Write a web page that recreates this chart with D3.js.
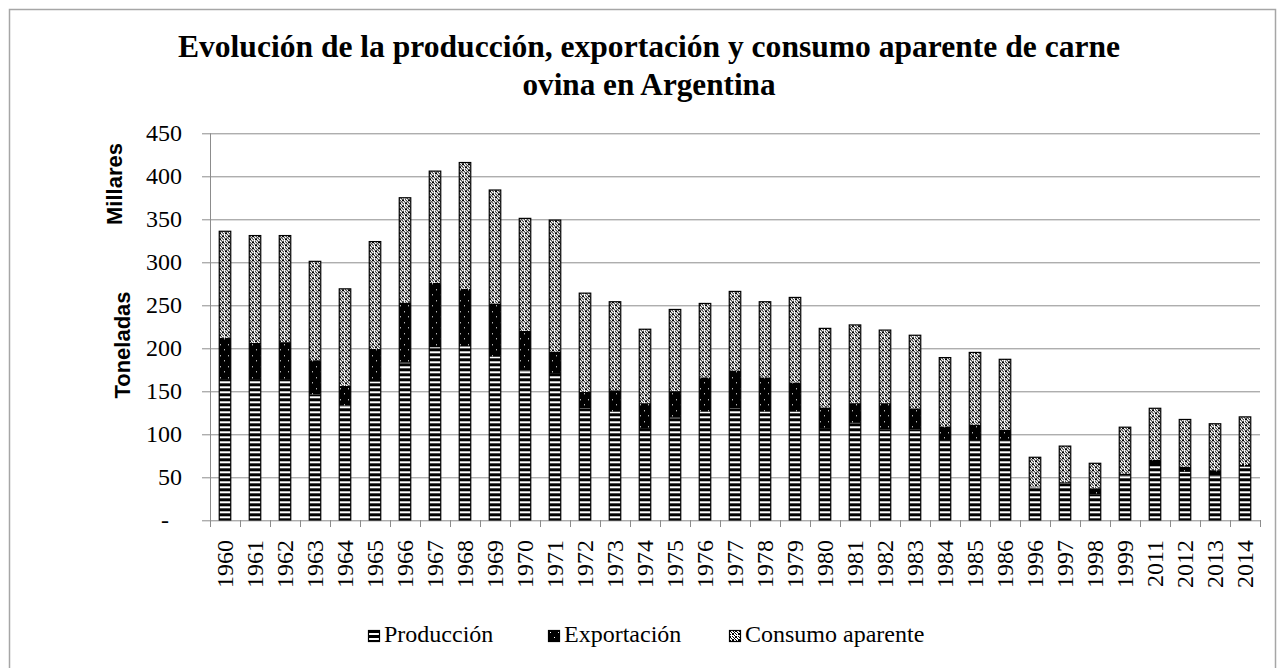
<!DOCTYPE html>
<html>
<head>
<meta charset="utf-8">
<script src="https://cdn.jsdelivr.net/npm/d3@7.9.0/dist/d3.min.js"></script>
<style>
  body { margin: 0; background: #fff; }
  svg { display: block; }
  .serif { font-family: "Liberation Serif", "Times New Roman", serif; }
  .sans { font-family: "Liberation Sans", Arial, sans-serif; }
</style>
</head>
<body>
<svg id="chart" width="1279" height="668"></svg>
<script>
const years = ["1960","1961","1962","1963","1964","1965","1966","1967","1968","1969",
  "1970","1971","1972","1973","1974","1975","1976","1977","1978","1979",
  "1980","1981","1982","1983","1984","1985","1986","1996","1997","1998","1999",
  "2011","2012","2013","2014"];

// miles de toneladas
const produccion  = [163,163,163,146,133,161,183,201,202,190,174,170,130,126,106,119,126,130,126,126,106,113,105,105,93,93,93,38,43,30,52,64,56,52,62];
const exportacion = [49,43,44,40,23,38,70,75,67,62,46,26,19,25,30,31,40,44,40,34,25,23,31,25,16,18,12,1,1,7,2,6,6,6,2];
const consumo     = [124,125,124,115,113,125,122,130,147,132,131,153,115,103,86,95,86,92,88,99,92,91,85,85,80,84,82,34,42,29,54,60,55,54,56];

const yTicks = [0,50,100,150,200,250,300,350,400,450];
const seriesNames = ["Producción","Exportación","Consumo aparente"];

const svg = d3.select("#chart");
const margin = { top: 133.3, right: 19, bottom: 148, left: 210 };
const width = 1279 - margin.left - margin.right;   // 1050
const height = 520 - margin.top;

// outer border
svg.append("rect")
  .attr("x", 9.5).attr("y", 9.5)
  .attr("width", 1266).attr("height", 690)
  .attr("fill", "#fff")
  .attr("stroke", "#a6a6a6")
  .attr("stroke-width", 1.5);

// patterns
const defs = svg.append("defs");

let pStripes = defs.append("pattern")
  .attr("id", "p-prod").attr("patternUnits", "userSpaceOnUse")
  .attr("width", 8).attr("height", 5);
pStripes.append("rect").attr("width", 8).attr("height", 5).attr("fill", "#fff");
pStripes.append("rect").attr("width", 8).attr("height", 3).attr("fill", "#000");

let pExp = defs.append("pattern")
  .attr("id", "p-exp").attr("patternUnits", "userSpaceOnUse")
  .attr("width", 8).attr("height", 11);
pExp.append("rect").attr("width", 8).attr("height", 11).attr("fill", "#000");
pExp.append("rect").attr("x", 2).attr("y", 2).attr("width", 1).attr("height", 1).attr("fill", "#fff");
pExp.append("rect").attr("x", 6).attr("y", 7).attr("width", 1).attr("height", 1).attr("fill", "#fff");

let pCons = defs.append("pattern")
  .attr("id", "p-cons").attr("patternUnits", "userSpaceOnUse")
  .attr("width", 6).attr("height", 6);
pCons.append("rect").attr("width", 6).attr("height", 6).attr("fill", "#fff");
[[0,0,2,2],[3,3,2,2],[3,0,1,1],[4,1,1,1],[0,3,1,1],[1,4,1,1],[2,2,1,1],[5,5,1,1],[5,2,1,1]].forEach(d => {
  pCons.append("rect").attr("x", d[0]).attr("y", d[1]).attr("width", d[2]).attr("height", d[3]).attr("fill", "#000");
});

const fills = ["url(#p-prod)", "url(#p-exp)", "url(#p-cons)"];

// title
svg.append("text")
  .attr("class", "serif")
  .attr("x", 649).attr("y", 57)
  .attr("text-anchor", "middle")
  .attr("font-weight", "bold").attr("font-size", 32)
  .attr("textLength", 942).attr("lengthAdjust", "spacingAndGlyphs")
  .text("Evolución de la producción, exportación y consumo aparente de carne");
svg.append("text")
  .attr("class", "serif")
  .attr("x", 649).attr("y", 95)
  .attr("text-anchor", "middle")
  .attr("font-weight", "bold").attr("font-size", 32)
  .attr("textLength", 253).attr("lengthAdjust", "spacingAndGlyphs")
  .text("ovina en Argentina");

const g = svg.append("g").attr("transform", `translate(${margin.left},${margin.top})`);

let xScale = d3.scaleBand().domain(years).range([0, width]).paddingInner(0.583).paddingOuter(0.2915);
let yScale = d3.scaleLinear().domain([0, 450]).range([height, 0]);

// gridlines + y ticks
g.append("g")
  .selectAll("line")
  .data(yTicks)
  .enter().append("line")
    .attr("x1", -8).attr("x2", width)
    .attr("y1", d => Math.round(yScale(d)) + 0.5)
    .attr("y2", d => Math.round(yScale(d)) + 0.5)
    .attr("stroke", "#8c8c8c").attr("stroke-width", 1);

// y axis line
g.append("line")
  .attr("x1", 0.5).attr("x2", 0.5)
  .attr("y1", Math.round(yScale(450))).attr("y2", Math.round(yScale(0)) + 1)
  .attr("stroke", "#8c8c8c");

// y tick labels
let yAxisGroup = g.append("g");
yAxisGroup.call(d3.axisLeft(yScale).tickValues(yTicks).tickSize(0).tickPadding(28)
  .tickFormat(d => d === 0 ? "-" : d));
yAxisGroup.attr("font-family", null);
yAxisGroup.select(".domain").remove();
yAxisGroup.selectAll("text")
  .attr("class", "serif").attr("font-size", 24).attr("fill", "#000");
yAxisGroup.selectAll(".tick").filter(d => d === 0).select("text").attr("x", -41);

// x boundary ticks
const step = xScale.step();
const x0 = xScale(years[0]) - xScale.paddingOuter() * step;
g.append("g")
  .selectAll("line")
  .data(d3.range(years.length + 1))
  .enter().append("line")
    .attr("x1", i => Math.round(x0 + i * step) + 0.5)
    .attr("x2", i => Math.round(x0 + i * step) + 0.5)
    .attr("y1", height).attr("y2", height + 7)
    .attr("stroke", "#8c8c8c");

// x labels
g.append("g")
  .selectAll("text")
  .data(years)
  .enter().append("text")
    .attr("class", "serif")
    .attr("transform", d => `translate(${xScale(d) + xScale.bandwidth() / 2},${height + 20}) rotate(-90)`)
    .attr("text-anchor", "end")
    .attr("dy", "0.35em")
    .attr("font-size", 24)
    .text(d => d);

// stacked bars
const rows = years.map((y, i) => ({ year: y, p: produccion[i], e: exportacion[i], c: consumo[i] }));
const stack = d3.stack().keys(["p", "e", "c"]);
const layers = stack(rows);

layers.forEach((layer, k) => {
  g.append("g")
    .selectAll("rect")
    .data(layer)
    .enter().append("rect")
      .attr("x", d => xScale(d.data.year) + 0.5)
      .attr("y", d => yScale(d[1]))
      .attr("width", xScale.bandwidth() - 1)
      .attr("height", d => yScale(d[0]) - yScale(d[1]))
      .attr("fill", fills[k]);
});

// bar outline
g.append("g")
  .selectAll("rect")
  .data(rows)
  .enter().append("rect")
    .attr("x", d => xScale(d.year) + 0.5)
    .attr("y", d => yScale(d.p + d.e + d.c))
    .attr("width", xScale.bandwidth() - 1)
    .attr("height", d => yScale(0) - yScale(d.p + d.e + d.c))
    .attr("fill", "none")
    .attr("stroke", "#000").attr("stroke-width", 1.2);

// y axis titles
svg.append("text")
  .attr("class", "sans")
  .attr("transform", "translate(122,184) rotate(-90)")
  .attr("text-anchor", "middle")
  .attr("font-weight", "bold").attr("font-size", 22)
  .text("Millares");
svg.append("text")
  .attr("class", "sans")
  .attr("transform", "translate(130,345) rotate(-90)")
  .attr("text-anchor", "middle")
  .attr("font-weight", "bold").attr("font-size", 22)
  .text("Toneladas");

// legend
const legendX = [368, 548, 729];
const legend = svg.append("g").attr("class", "legend");
seriesNames.forEach((name, i) => {
  const row = legend.append("g").attr("transform", `translate(${legendX[i]},630)`);
  row.append("rect")
    .attr("x", 0.5).attr("y", 0.5)
    .attr("width", 11).attr("height", 11)
    .attr("fill", fills[i])
    .attr("stroke", "#000").attr("stroke-width", 1.2);
  row.append("text")
    .attr("class", "serif")
    .attr("x", 16).attr("y", 12)
    .attr("font-size", 24)
    .text(name);
});
</script>
</body>
</html>
